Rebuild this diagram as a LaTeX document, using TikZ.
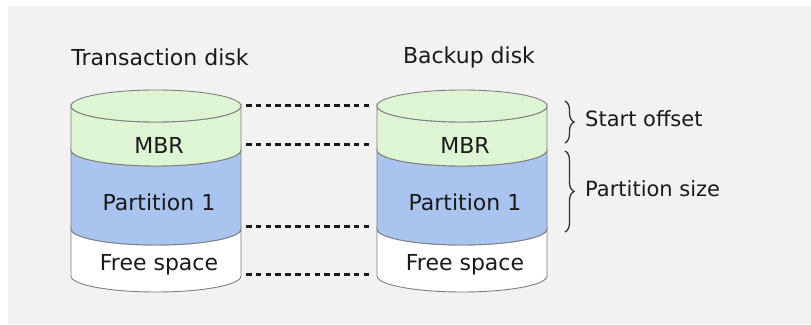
\documentclass[tikz,border=0pt]{standalone}
\usepackage{fontspec}
\setmainfont{DejaVu Sans}
\usetikzlibrary{decorations.pathreplacing}
\definecolor{bgc}{HTML}{F2F2F2}
\definecolor{topc}{HTML}{DDF5D2}
\definecolor{partc}{HTML}{A9C4EE}
\definecolor{edgec}{HTML}{7F7F7F}
\definecolor{inkc}{HTML}{1A1A1A}
\tikzset{
  seg/.style={draw=edgec, line width=0.9pt},
  lbl/.style={inner sep=0pt, text=inkc, font=\fontsize{22}{26}\selectfont},
  sidelbl/.style={inner sep=0pt, anchor=west, text=inkc, font=\fontsize{21}{25}\selectfont},
  dotline/.style={draw=inkc, line width=3pt, dash pattern=on 5.5pt off 4.3pt},
  bracestyle/.style={draw=inkc!90, line width=1.3pt, decorate, decoration={brace, amplitude=9pt}},
  disk/.pic={
    \filldraw[seg, fill=white] (-85,95) -- (-85,48) arc[start angle=180, end angle=360, x radius=85, y radius=16] -- (85,95) arc[start angle=0, end angle=-180, x radius=85, y radius=16] -- cycle;
    \filldraw[seg, fill=partc] (-85,174) -- (-85,95) arc[start angle=180, end angle=360, x radius=85, y radius=16] -- (85,174) arc[start angle=0, end angle=-180, x radius=85, y radius=16] -- cycle;
    \filldraw[seg, fill=topc] (-85,218) -- (-85,174) arc[start angle=180, end angle=360, x radius=85, y radius=16] -- (85,218) arc[start angle=0, end angle=-180, x radius=85, y radius=16] -- cycle;
    \filldraw[seg, fill=topc] (0,218) ellipse[x radius=85, y radius=16];
    \node[lbl] (-mbr) at (3,179) {MBR};
    \node[lbl] (-part) at (3,122) {Partition 1};
    \node[lbl] (-free) at (3,59) {Free space};
    \coordinate (-l1) at (-85,218); \coordinate (-r1) at (85,218);
    \coordinate (-l2) at (-85,179); \coordinate (-r2) at (85,179);
    \coordinate (-l3) at (-85,97);  \coordinate (-r3) at (85,97);
    \coordinate (-l4) at (-85,49);  \coordinate (-r4) at (85,49);
  }
}
\begin{document}
\begin{tikzpicture}[x=1pt, y=1pt]
\useasboundingbox (0,0) rectangle (811,324);
\fill[white] (0,0) rectangle (811,324);
\fill[bgc] (8,0) rectangle (811,318);

\pic (A) at (156,0) {disk};
\pic (B) at (462,0) {disk};

\node[lbl] (tlabel) at (160,267) {Transaction disk};
\node[lbl] (blabel) at (469,267) {Backup disk};

\foreach \i in {1,2,3,4} {
  \draw[dotline] ([xshift=5pt]A-r\i) -- ([xshift=-4pt]B-l\i);
}

\coordinate (s1) at (565,223);
\coordinate (s2) at (565,181);
\coordinate (p1) at (565,173);
\coordinate (p2) at (565,92);
\draw[bracestyle] (s1) -- (s2);
\draw[bracestyle] (p1) -- (p2);
\node[sidelbl] (start) at (585,205) {Start offset};
\node[sidelbl] (psize) at (585,135) {Partition size};
\end{tikzpicture}
\end{document}
